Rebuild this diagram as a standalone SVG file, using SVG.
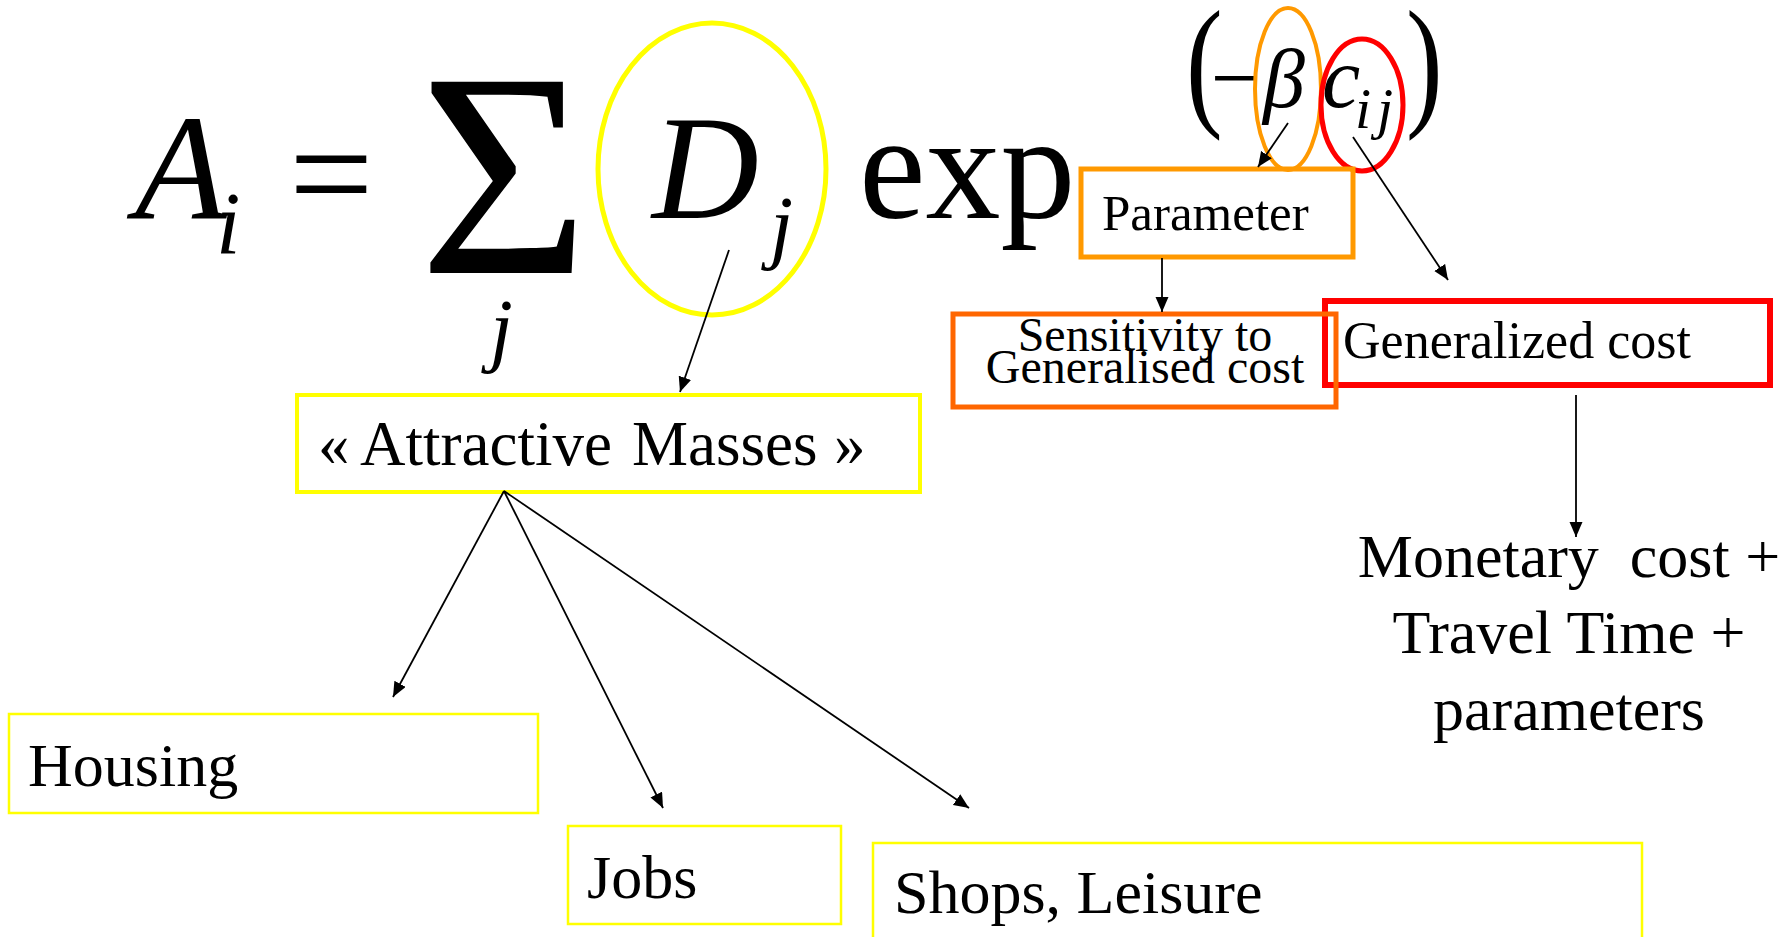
<svg xmlns="http://www.w3.org/2000/svg" width="1785" height="937" viewBox="0 0 1785 937">
<style>
text{font-family:"Liberation Serif","Times New Roman",serif;fill:#000}
.it{font-style:italic}
.conn line{stroke:#000;stroke-width:1.8;marker-end:url(#ah)}
.box{fill:none}
</style>
<defs>
<marker id="ah" markerUnits="userSpaceOnUse" markerWidth="16" markerHeight="14" refX="15" refY="6.5" orient="auto">
<path d="M0,0 L15,6.5 L0,13 z" fill="#000"/>
</marker>
</defs>
<rect width="1785" height="937" fill="#fff"/>

<g id="formula">
<text class="it" x="135" y="218" font-size="150">A</text>
<text class="it" x="216" y="253" font-size="88">i</text>
<text x="289" y="224" font-size="150">=</text>
<text x="419" y="273" font-size="292">Σ</text>
<text class="it" x="490" y="356" font-size="82">j</text>
<text class="it" x="652" y="218" font-size="148">D</text>
<text class="it" x="770" y="253" font-size="83">j</text>
<text x="859" y="218" font-size="150">exp</text>
<text x="1186" y="110" font-size="110" transform="translate(1186 110) scale(1 1.3) translate(-1186 -110)">(</text>
<text x="1211" y="107" font-size="86">−</text>
<text class="it" x="1263" y="107" font-size="84">β</text>
<text class="it" x="1322" y="107" font-size="86">c</text>
<text class="it" x="1355" y="128" font-size="58">i</text>
<text class="it" x="1377" y="128" font-size="58">j</text>
<text x="1406" y="110" font-size="110" transform="translate(1406 110) scale(1 1.3) translate(-1406 -110)">)</text>
</g>

<g id="n-dj"><ellipse cx="712" cy="169" rx="114" ry="146" fill="none" stroke="#FFFF00" stroke-width="5"/></g>
<g id="n-beta"><ellipse cx="1288" cy="89" rx="33" ry="81" fill="none" stroke="#FF9900" stroke-width="4"/></g>
<g id="n-cij"><ellipse cx="1362" cy="105" rx="41" ry="66" fill="none" stroke="#FF0000" stroke-width="5"/></g>

<g id="n-parameter">
<rect class="box" x="1081" y="169" width="272" height="88" stroke="#FF9900" stroke-width="5"/>
<text x="1102" y="230" font-size="51">Parameter</text>
</g>

<g id="n-generalized">
<rect class="box" x="1325" y="301" width="445" height="84" stroke="#FF0000" stroke-width="6"/>
<text x="1343" y="358" font-size="52">Generalized cost</text>
</g>

<g id="n-sensitivity">
<rect class="box" x="953" y="314" width="383" height="93" stroke="#FF6600" stroke-width="5"/>
<text x="1145" y="351" font-size="48" text-anchor="middle">Sensitivity to</text>
<text x="1145" y="383" font-size="48" text-anchor="middle">Generalised cost</text>
</g>

<g id="n-monetary">
<text x="1569" y="577" font-size="62" text-anchor="middle">Monetary&#160; cost +</text>
<text x="1569" y="653" font-size="62" text-anchor="middle">Travel Time +</text>
<text x="1569" y="730" font-size="62" text-anchor="middle">parameters</text>
</g>

<g id="n-attractive">
<rect class="box" x="297" y="395" width="623" height="97" stroke="#FFFF00" stroke-width="4"/>
<text y="465" font-size="63"><tspan x="318">«</tspan><tspan x="360">Attractive</tspan><tspan x="632">Masses</tspan><tspan x="834">»</tspan></text>
</g>

<g id="n-housing">
<rect class="box" x="9" y="714" width="529" height="99" stroke="#FFFF00" stroke-width="2.5"/>
<text x="28" y="786" font-size="62">Housing</text>
</g>

<g id="n-jobs">
<rect class="box" x="568" y="826" width="273" height="98" stroke="#FFFF00" stroke-width="2.5"/>
<text x="587" y="898" font-size="62">Jobs</text>
</g>

<g id="n-shops">
<rect class="box" x="873" y="843" width="769" height="120" stroke="#FFFF00" stroke-width="2.5"/>
<text x="894" y="913" font-size="62">Shops, Leisure</text>
</g>

<g id="connectors" class="conn">
<line x1="729" y1="250" x2="680" y2="392"/>
<line x1="1288" y1="123" x2="1258" y2="167"/>
<line x1="1353" y1="137" x2="1448" y2="280"/>
<line x1="1162" y1="258" x2="1162" y2="312"/>
<line x1="1576" y1="395" x2="1576" y2="537"/>
<line x1="504" y1="491" x2="393" y2="697"/>
<line x1="504" y1="491" x2="663" y2="808"/>
<line x1="504" y1="491" x2="969" y2="808"/>
</g>
</svg>
